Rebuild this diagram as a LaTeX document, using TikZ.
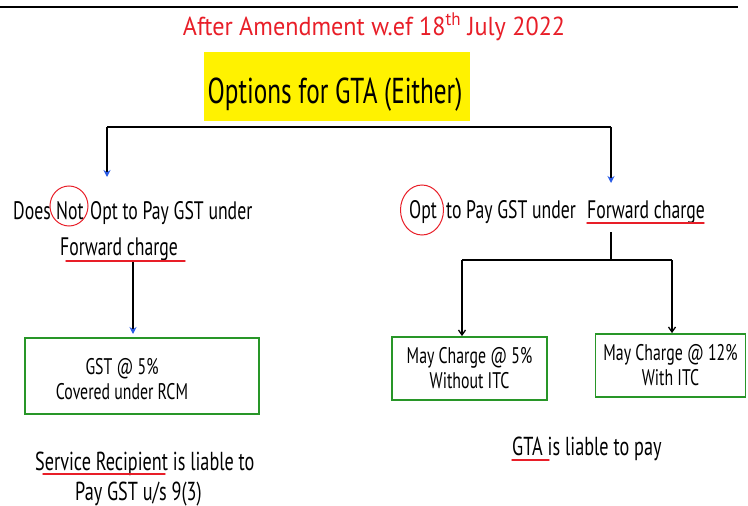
\documentclass[tikz,border=0pt]{standalone}
\usepackage{fontspec}
\setmainfont{PT Sans}[FakeStretch=0.7]
\newfontfamily\titlefont{PT Sans}[FakeStretch=0.93]
\usetikzlibrary{calc, positioning}
\usetikzlibrary{arrows.meta}
\usetikzlibrary{shapes.geometric}

\definecolor{penred}{RGB}{232,30,40}
\definecolor{hiyellow}{RGB}{255,242,0}
\definecolor{boxgreen}{RGB}{40,150,40}
\definecolor{penblue}{RGB}{40,90,230}

\tikzset{
  title/.style={font=\titlefont\fontsize{26}{30}\selectfont, text=penred, inner sep=0pt},
  head/.style={font=\fontsize{36}{40}\selectfont, inner sep=0pt},
  body/.style={font=\fontsize{25.3}{28}\selectfont, inner sep=0pt, anchor=base west},
  foot/.style={body, font=\fontsize{26}{28}\selectfont},
  boxtext/.style={font=\fontsize{22.6}{25}\selectfont, align=center, inner sep=0pt},
  gbox/.style={draw=boxgreen, line width=1.8pt, inner sep=0pt},
  ring/.style={ellipse, draw=penred, line width=1pt, inner sep=0pt},
  redline/.style={draw=penred, line width=1.4pt, line cap=round},
  link/.style={line width=1.3pt},
  bluearrow/.style={link, -{Stealth[length=7pt, width=7pt, color=penblue]}},
  blackarrow/.style={link, -{Straight Barb[length=5pt, width=7pt]}},
}

\begin{document}
\begin{tikzpicture}[x=1pt, y=-1pt]
\useasboundingbox (0,0) rectangle (748,506);

% top rule and heading
\draw[line width=2.5pt] (0,7) -- (738,7);
\node[title, anchor=base] (amend) at (374,35) {After Amendment w.ef 18\textsuperscript{th} July 2022};
\fill[hiyellow] (204,52) rectangle (470,121);
\node[head, anchor=base] (opts) at (335,103) {Options for GTA (Either)};

\coordinate (barL) at (107,127);
\coordinate (barR) at (611,127);
\coordinate (tipL) at (107,177);
\coordinate (tipR) at (611,183);
\draw[link] (barL) -- (barR);
\draw[bluearrow] (barL) -- (tipL);
\draw[bluearrow] (barR) -- (tipR);

% left branch
\node[body] (does) at (13,219) {Does};
\node[body] (notw) at (56,219) {Not};
\node[ring, minimum width=38, minimum height=40] (notring) at (69,206) {};
\node[body] (restL) at (90,219) {Opt to Pay GST under};
\node[body] (fwdL) at (60,255) {Forward charge};
\draw[redline] (66,261) -- (185,261);

\coordinate (stemL) at (133,262);
\coordinate (tipRcm) at (133,334);
\node[gbox, minimum width=234, minimum height=76] (rcm) at (142,376) {};
\node[boxtext] (rcmtext) at (122,379) {GST @ 5\%\\Covered under RCM};
\draw[bluearrow] (stemL) -- (tipRcm);

\node[foot] (recip) at (35,470) {Service Recipient is liable to};
\draw[redline] (43,474) -- (165,474);
\node[foot] (sec) at (75,500) {Pay GST u/s 9(3)};

% right branch
\node[body] (optw) at (409,218) {Opt};
\node[ring, minimum width=43, minimum height=50] (optring) at (422,210) {};
\node[body] (restR) at (446,218) {to Pay GST under};
\node[body] (fwdR) at (587,218) {Forward charge};
\draw[redline] (587,223) -- (704,223);

\coordinate (stemR) at (611,232);
\coordinate (forkR) at (611,260);
\coordinate (forkA) at (462,260);
\coordinate (forkB) at (672,260);
\draw[link] (stemR) -- (forkR);
\draw[link] (forkA) -- (forkB);

\node[gbox, minimum width=155, minimum height=63, boxtext] (five) at (469.5,368.5) {May Charge @ 5\%\\Without ITC};
\node[gbox, minimum width=150, minimum height=63, boxtext] (twelve) at (670.5,365.5) {May Charge @ 12\%\\With ITC};
\draw[blackarrow] (forkA) -- (forkA |- five.north);
\draw[blackarrow] (forkB) -- (forkB |- twelve.north);

\node[foot] (gta) at (512,455) {GTA is liable to pay};
\draw[redline] (512,460) -- (549,460);

\end{tikzpicture}
\end{document}
